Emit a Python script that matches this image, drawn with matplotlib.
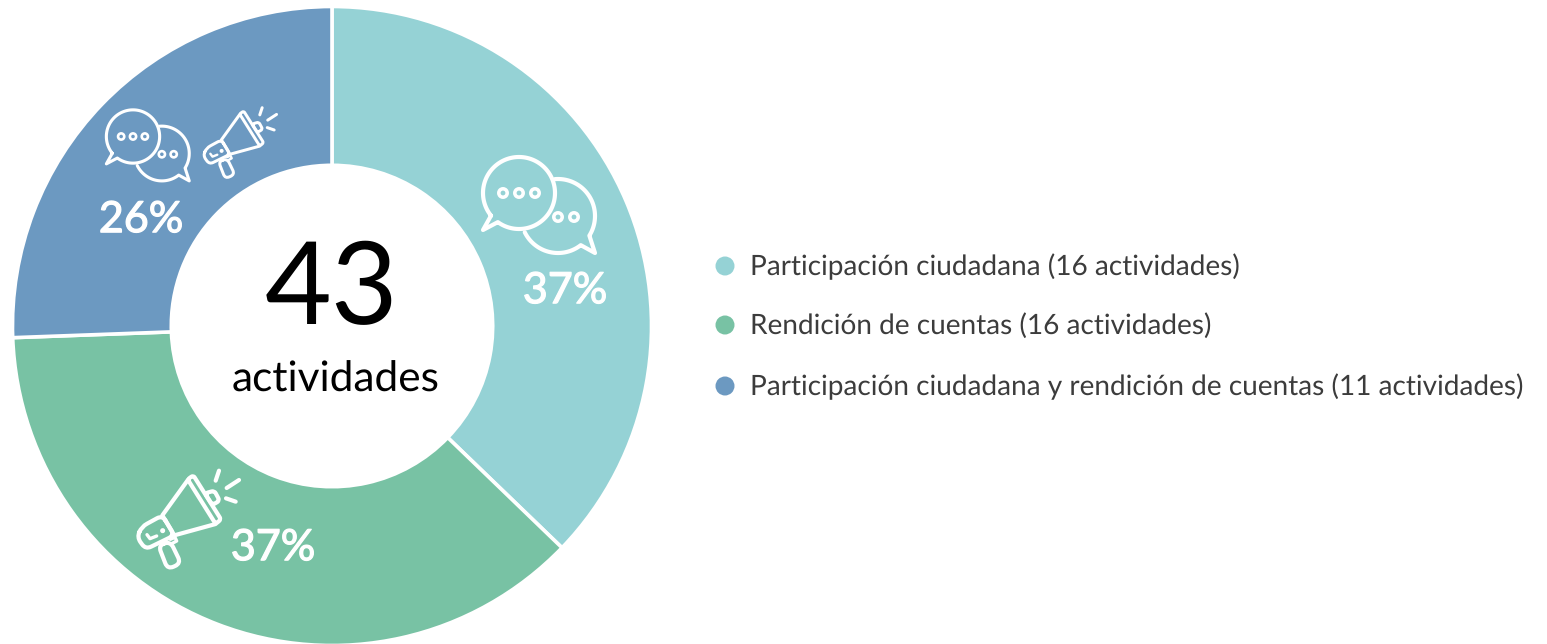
import numpy as np
import matplotlib
matplotlib.use("Agg")
import matplotlib.pyplot as plt
import matplotlib.patheffects as pe
from matplotlib.patches import PathPatch, Circle
from matplotlib.path import Path

categories = ["Participación ciudadana", "Rendición de cuentas", "Participación ciudadana y rendición de cuentas"]
counts = [16, 16, 11]
colors = ["#95d2d5", "#78c2a4", "#6c99c1"]
total_label = "43"
total_text = "actividades"

FONT = "Lato"
W, H = 1547, 644

plt.rcParams["text.hinting"] = "none"

fig = plt.figure(figsize=(W / 100, H / 100), dpi=100)

# donut on its own axes, placed by pixels
cx, cy, r = 332, 326, 319.5
ax = fig.add_axes([(cx - r) / W, 1 - (cy + r) / H, 2 * r / W, 2 * r / H])
ax.pie(counts, colors=colors, startangle=90, counterclock=False,
       wedgeprops=dict(width=0.497, edgecolor="white", linewidth=2.6))
ax.set_xlim(-1, 1)
ax.set_ylim(-1, 1)

# overlay in pixel coords, y down
ov = fig.add_axes([0, 0, 1, 1])
ov.set_xlim(0, W)
ov.set_ylim(H, 0)
ov.axis("off")
ov.patch.set_alpha(0)


def rounded(pts, rad):
    pts = np.array(pts, dtype=float)
    n = len(pts)
    verts, codes = [], []
    for i in range(n):
        p = pts[i]
        a = pts[i - 1]
        b = pts[(i + 1) % n]
        p1 = p + (a - p) / np.linalg.norm(a - p) * rad
        p2 = p + (b - p) / np.linalg.norm(b - p) * rad
        verts += [p1, p, p2]
        codes += [Path.MOVETO if i == 0 else Path.LINETO, Path.CURVE3, Path.CURVE3]
    verts.append(verts[0])
    codes.append(Path.LINETO)
    return Path(verts, codes)


def stroke(path, lw):
    ov.add_patch(PathPatch(path, fill=False, edgecolor="white", lw=lw,
                           capstyle="round", joinstyle="round"))


def bubbles(x, y, s):
    lw = 3 * s
    # big bubble
    a = np.radians(np.linspace(141, 486, 120))
    pts = np.c_[36 * np.cos(a), 36 * np.sin(a)]
    pts = np.vstack([pts, [-36, 37], pts[0]])
    stroke(Path(pts * s + [x, y]), lw)
    # back bubble, hidden behind the big one on the left
    a1 = np.radians(np.linspace(-95, 32, 50))
    a2 = np.radians(np.linspace(52, 154, 40))
    arc1 = np.c_[37 * np.cos(a1), 37 * np.sin(a1)]
    arc2 = np.c_[37 * np.cos(a2), 37 * np.sin(a2)]
    pts = np.vstack([arc1, [37, 37], arc2]) + [39, 23]
    stroke(Path(pts * s + [x, y]), lw)
    # dots
    for dx, dy in [(-16, 0), (0, 0), (16, 0), (39, 24), (55, 24)]:
        ov.add_patch(Circle((x + dx * s, y + dy * s), 4.2 * s, fill=False, ec="white", lw=lw * 0.85))


def megaphone(x, y, s):
    lw = 3 * s

    def T(pts):
        return np.array(pts, dtype=float) / 3 * s + [x, y]

    # horn, open at the rim
    stroke(Path(T([(190, 58), (112, 166), (148, 226), (272, 192)])), lw)
    # rim
    stroke(rounded(T([(188, 58), (205, 46), (288, 178), (272, 192)]), 2.5 * s), lw)
    # rear
    stroke(rounded(T([(112, 166), (50, 200), (36, 232), (62, 268), (148, 226)]), 6 * s), lw)
    # handle
    stroke(rounded(T([(100, 256), (128, 328), (168, 310), (136, 244)]), 6.5 * s), lw)
    stroke(Path(T([(136, 238), (150, 232), (155, 243), (142, 250)])), lw * 0.8)
    # knob on the mouth
    stroke(rounded(T([(240, 100), (268, 92), (284, 122), (262, 135)]), 3 * s), lw)
    # rays
    for seg in [[(282, 32), (272, 62)], [(305, 84), (342, 60)], [(303, 115), (332, 125)]]:
        stroke(Path(T(seg)), lw)
    # small marks inside
    stroke(Path(T([(66, 224), (75, 236), (95, 228)])), lw * 0.8)
    ov.add_patch(Circle(tuple(T([(113, 212)])[0]), 1.8 * s, color="white"))


bubbles(519, 193, 1)
bubbles(133, 136.5, 0.74)
megaphone(125, 460, 1)
megaphone(194.5, 100, 0.72)

# percent labels
pct_pos = [(565, 291), (273, 548), (141, 220)]
for n, (px, py) in zip(counts, pct_pos):
    t = ov.text(px, py, f"{n / sum(counts) * 100:.0f}%", color="white", fontsize=31,
                family=FONT, ha="center", va="center")
    # Lato has no usable semibold here, thicken the regular cut a little
    t.set_path_effects([pe.withStroke(linewidth=0.9, foreground="white")])

# centre
ov.text(331.5, 292, total_label, color="black", fontsize=83, family=FONT, ha="center", va="center")
ov.text(336, 380, total_text, color="black", fontsize=30.5, family=FONT, ha="center", va="center")

# legend
legend_y = [267, 326, 387]
for cat, n, col, ly in zip(categories, counts, colors, legend_y):
    ov.add_patch(Circle((725, ly - 1), 9.5, color=col, lw=0))
    ov.text(750, ly, f"{cat} ({n} actividades)", color="#3c3c3c", fontsize=20.2,
            family=FONT, ha="left", va="center")

fig.savefig("out.png", dpi=100)
